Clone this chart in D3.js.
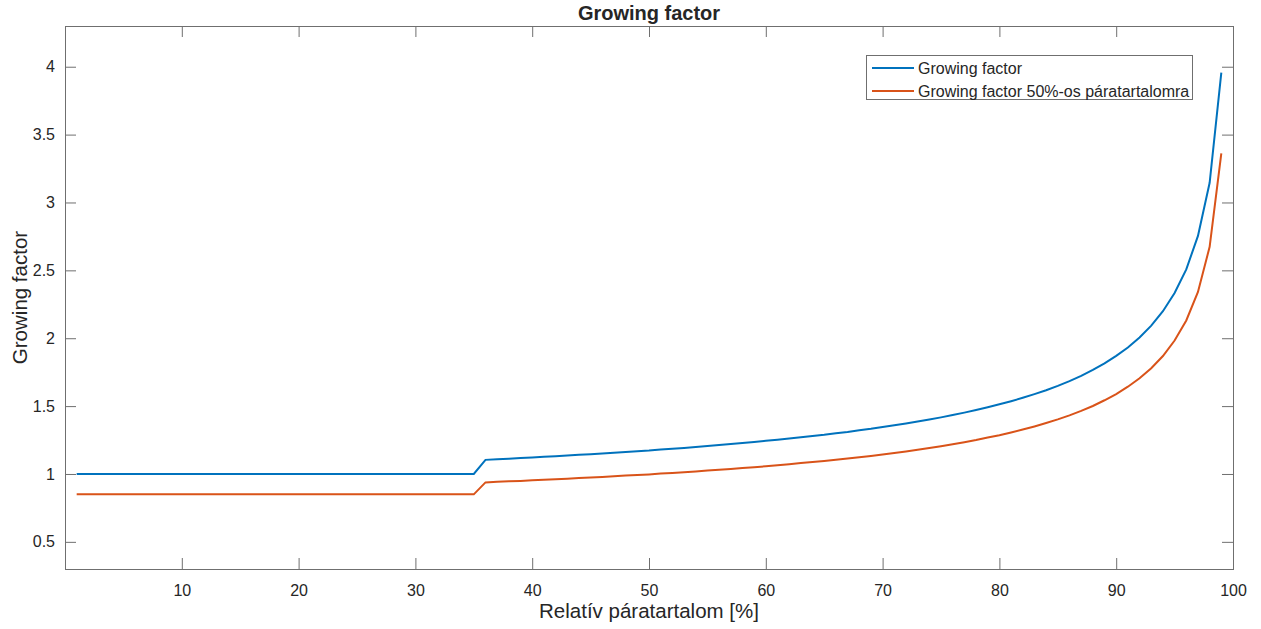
<!DOCTYPE html>
<html>
<head>
<meta charset="utf-8">
<script src="https://cdn.jsdelivr.net/npm/d3@7"></script>
<style>
body { margin: 0; background: #fff; }
svg text { font-family: "Liberation Sans", Arial, Helvetica, sans-serif; fill: #262626; }
</style>
</head>
<body>
<div id="viz"></div>
<script>
var width = 1261;
var height = 629;

// relative humidity [%], 1..99
var rh = d3.range(1, 100);

// flat part 1..35, then rising
var gfFlat = 1.0;
var gf50Flat = 0.85;
var gfRise = [1.104, 1.108, 1.113, 1.117, 1.122, 1.126, 1.131, 1.136, 1.141, 1.146,
	1.151, 1.156, 1.162, 1.168, 1.173, 1.180, 1.186, 1.192, 1.199, 1.206,
	1.213, 1.220, 1.228, 1.236, 1.244, 1.252, 1.261, 1.270, 1.280, 1.289,
	1.300, 1.310, 1.322, 1.333, 1.346, 1.359, 1.372, 1.386, 1.401, 1.417,
	1.434, 1.452, 1.471, 1.491, 1.513, 1.536, 1.561, 1.588, 1.617, 1.649,
	1.684, 1.723, 1.766, 1.815, 1.870, 1.932, 2.006, 2.093, 2.199, 2.333,
	2.507, 2.754, 3.145, 3.956];
var gf50Rise = [0.938, 0.942, 0.946, 0.949, 0.953, 0.957, 0.961, 0.965, 0.970, 0.974,
	0.978, 0.983, 0.988, 0.992, 0.997, 1.003, 1.008, 1.013, 1.019, 1.025,
	1.031, 1.037, 1.044, 1.050, 1.057, 1.064, 1.072, 1.080, 1.088, 1.096,
	1.105, 1.114, 1.123, 1.133, 1.144, 1.155, 1.166, 1.178, 1.191, 1.205,
	1.219, 1.234, 1.250, 1.268, 1.286, 1.306, 1.327, 1.350, 1.375, 1.402,
	1.432, 1.465, 1.501, 1.543, 1.589, 1.643, 1.705, 1.779, 1.869, 1.983,
	2.131, 2.341, 2.673, 3.362];

var xTicks = [10, 20, 30, 40, 50, 60, 70, 80, 90, 100];
var yTicks = [0.5, 1, 1.5, 2, 2.5, 3, 3.5, 4];
var seriesNames = ["Growing factor", "Growing factor 50%-os páratartalomra"];
var seriesColors = ["#0072BD", "#D95319"];

var gf = rh.map(function(v, i){ return v <= 35 ? gfFlat : gfRise[i - 35]; });
var gf50 = rh.map(function(v, i){ return v <= 35 ? gf50Flat : gf50Rise[i - 35]; });
var series = [gf, gf50];

var pLeft = 65, pRight = 1233, pTop = 26, pBottom = 569;

var x = d3.scaleLinear().domain([0, 100]).range([pLeft, pRight]);
var y = d3.scaleLinear().domain([0.3, 4.3]).range([pBottom, pTop]);

var svg = d3.select("#viz").append("svg")
	.attr("width", width)
	.attr("height", height);

// axes (ticks inside, like matlab)
var tl = 11;
var fmt = d3.format("~g");
var gx = svg.append("g").attr("transform", "translate(0," + pBottom + ")")
	.call(d3.axisBottom(x).tickValues(xTicks).tickFormat(fmt).tickSizeInner(-tl).tickSizeOuter(0).tickPadding(16));
var gxTop = svg.append("g").attr("transform", "translate(0," + pTop + ")")
	.call(d3.axisTop(x).tickValues(xTicks).tickSizeInner(-tl).tickSizeOuter(0).tickFormat(""));
var gy = svg.append("g").attr("transform", "translate(" + pLeft + ",0)")
	.call(d3.axisLeft(y).tickValues(yTicks).tickFormat(fmt).tickSizeInner(-tl).tickSizeOuter(0).tickPadding(10));
var gyR = svg.append("g").attr("transform", "translate(" + pRight + ",0)")
	.call(d3.axisRight(y).tickValues(yTicks).tickSizeInner(-tl).tickSizeOuter(0).tickFormat(""));

[gx, gxTop, gy, gyR].forEach(function(g){
	g.select(".domain").remove();
	g.selectAll(".tick line").attr("stroke", "#6f6f6f");
	g.selectAll(".tick text").attr("font-size", 16).attr("fill", "#262626")
		.attr("font-family", "'Liberation Sans', Arial, sans-serif");
});

var line = d3.line()
	.x(function(d, i){ return x(rh[i]); })
	.y(function(d){ return y(d); });

for (var s = 0; s < series.length; s++){
	svg.append("path")
		.attr("d", line(series[s]))
		.attr("fill", "none")
		.attr("stroke", seriesColors[s])
		.attr("stroke-width", 2);
}

// box
svg.append("rect")
	.attr("x", pLeft + 0.5).attr("y", pTop + 0.5)
	.attr("width", pRight - pLeft).attr("height", pBottom - pTop)
	.attr("fill", "none").attr("stroke", "#6f6f6f").attr("stroke-width", 1);

// title and labels
svg.append("text")
	.attr("x", (pLeft + pRight) / 2).attr("y", 20)
	.attr("text-anchor", "middle")
	.attr("font-size", 20).attr("font-weight", "bold")
	.attr("fill", "#000")
	.text("Growing factor");

svg.append("text")
	.attr("x", (pLeft + pRight) / 2).attr("y", 618)
	.attr("text-anchor", "middle")
	.attr("font-size", 20.5)
	.text("Relatív páratartalom [%]");

svg.append("text")
	.attr("transform", "translate(27," + ((pTop + pBottom) / 2) + ") rotate(-90)")
	.attr("text-anchor", "middle")
	.attr("font-size", 20.5)
	.text("Growing factor");

// legend
var lg = svg.append("g");
lg.append("rect")
	.attr("x", 866.5).attr("y", 55.5)
	.attr("width", 326).attr("height", 44)
	.attr("fill", "#fff").attr("stroke", "#6f6f6f").attr("stroke-width", 1);
for (var k = 0; k < seriesNames.length; k++){
	var ly = 68 + k * 23;
	lg.append("line")
		.attr("x1", 872).attr("x2", 914)
		.attr("y1", ly).attr("y2", ly)
		.attr("stroke", seriesColors[k]).attr("stroke-width", 2);
	lg.append("text")
		.attr("x", 918).attr("y", ly + 5.5)
		.attr("font-size", 16)
		.attr("fill", "#000")
		.text(seriesNames[k]);
}
</script>
</body>
</html>
